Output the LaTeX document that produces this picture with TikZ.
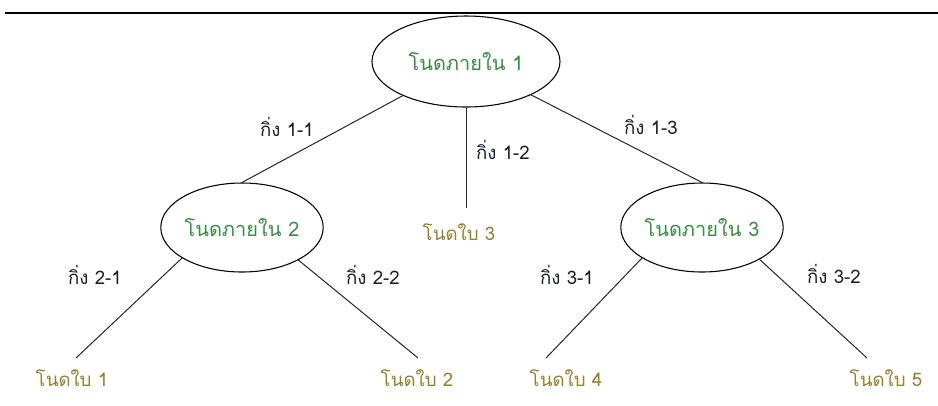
\documentclass[tikz,border=0pt]{standalone}
\usepackage{fontspec}
\newfontfamily\thaifont[Script=Thai]{Loma}
\usetikzlibrary{shapes.geometric}
\definecolor{innergreen}{RGB}{58,140,70}
\definecolor{leafgold}{RGB}{150,128,48}
\definecolor{branchtxt}{RGB}{30,30,50}
\tikzset{
  inner/.style={ellipse, draw, line width=0.8pt, inner sep=0pt, text=innergreen,
    font=\thaifont\fontsize{15}{18}\selectfont},
  leaf/.style={inner sep=0pt, text=leafgold, font=\thaifont\fontsize{14}{17}\selectfont},
  blabel/.style={inner sep=0pt, text=branchtxt, font=\thaifont\fontsize{14}{17}\selectfont},
  edge/.style={line width=0.75pt, draw=black!85}
}
\begin{document}
\begin{tikzpicture}[x=0.75pt,y=-0.75pt]
\useasboundingbox (0,0) rectangle (938,405);
\coordinate (tl) at (5,13);
\coordinate (tr) at (938,13);
\draw[line width=1.3pt] (tl) -- (tr);

\node[inner, minimum width=141pt, minimum height=68.25pt] (root) at (466,61.5) {โนดภายใน 1};
\node[inner, minimum width=121.5pt, minimum height=66.75pt] (n2) at (242,227.5) {โนดภายใน 2};
\node[inner, minimum width=121.5pt, minimum height=66.75pt] (n3) at (702,227.5) {โนดภายใน 3};

\node[leaf] (l3) at (459,232) {โนดใบ 3};
\node[leaf] (l1) at (72,378) {โนดใบ 1};
\node[leaf] (l2) at (417,378) {โนดใบ 2};
\node[leaf] (l4) at (566,378) {โนดใบ 4};
\node[leaf] (l5) at (886,378) {โนดใบ 5};

\coordinate (e3) at (466,208);
\coordinate (e1) at (76,358);
\coordinate (e2) at (418,358);
\coordinate (e4) at (546,358);
\coordinate (e5) at (867,358);

\draw[edge] (root) -- (n2.north);
\draw[edge] (root) -- (n3.north);
\draw[edge] (root.south) -- (e3);
\draw[edge] (n2.207) -- (e1);
\draw[edge] (n2.330) -- (e2);
\draw[edge] (n3.207) -- (e4);
\draw[edge] (n3.331) -- (e5);

\node[blabel] (b11) at (287,127) {กิ่ง 1-1};
\node[blabel] (b12) at (503,150) {กิ่ง 1-2};
\node[blabel] (b13) at (651,125) {กิ่ง 1-3};
\node[blabel] (b21) at (95,275) {กิ่ง 2-1};
\node[blabel] (b22) at (373,275) {กิ่ง 2-2};
\node[blabel] (b31) at (567,275) {กิ่ง 3-1};
\node[blabel] (b32) at (834,274) {กิ่ง 3-2};
\end{tikzpicture}
\end{document}
